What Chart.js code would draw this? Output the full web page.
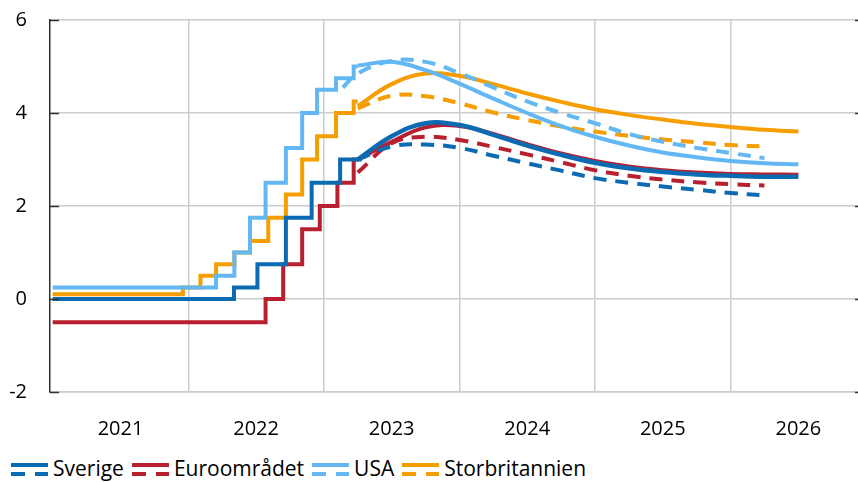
<!DOCTYPE html>
<html>
<head>
<meta charset="utf-8">
<script src="https://cdn.jsdelivr.net/npm/chart.js@4"></script>
<style>
  body { margin: 0; background: #fff; font-family: "Open Sans", sans-serif; }
  #wrap { position: relative; width: 858px; height: 446px; }
  #legend { display: flex; align-items: center; padding-left: 11px; height: 44px; font-size: 21px; color: #000; }
  #legend .item { display: flex; align-items: center; margin-right: 8px; }
  #legend svg { margin-right: 5px; margin-top: 3px; }
</style>
</head>
<body>
<div id="wrap"><canvas id="rates-chart"></canvas></div>
<div id="legend"></div>
<script>
  // historical policy rates (date as decimal year -> new rate)
  const seHistDates = [2021.0, 2022.337, 2022.51, 2022.72, 2022.91, 2023.12, 2023.28];
  const seHist      = [0, 0.25, 0.75, 1.75, 2.5, 3.0, 3.0];
  const eaHistDates = [2021.0, 2022.57, 2022.70, 2022.84, 2022.97, 2023.10, 2023.22, 2023.26];
  const eaHist      = [-0.5, 0, 0.75, 1.5, 2.0, 2.5, 3.0, 3.0];
  const usHistDates = [2021.0, 2022.205, 2022.34, 2022.455, 2022.57, 2022.72, 2022.84, 2022.95, 2023.09, 2023.22, 2023.25];
  const usHist      = [0.25, 0.5, 1.0, 1.75, 2.5, 3.25, 4.0, 4.5, 4.75, 5.0, 5.0];
  const ukHistDates = [2021.0, 2021.96, 2022.09, 2022.205, 2022.34, 2022.455, 2022.59, 2022.72, 2022.84, 2022.95, 2023.09, 2023.22, 2023.25];
  const ukHist      = [0.1, 0.25, 0.5, 0.75, 1.0, 1.25, 1.75, 2.25, 3.0, 3.5, 4.0, 4.25, 4.25];

  // forecasts (solid) and market expectations (dashed), quarterly
  const fcDates  = [2023.25, 2023.5, 2023.75, 2024.0, 2024.25, 2024.5, 2024.75, 2025.0, 2025.25, 2025.5, 2025.75, 2026.0, 2026.25, 2026.5];
  const mktDates = [2023.25, 2023.5, 2023.75, 2024.0, 2024.25, 2024.5, 2024.75, 2025.0, 2025.25, 2025.5, 2025.75, 2026.0, 2026.25];
  const usMktDates = [2023.14, 2023.25, 2023.5, 2023.75, 2024.0, 2024.25, 2024.5, 2024.75, 2025.0, 2025.25, 2025.5, 2025.75, 2026.0, 2026.25];

  const seForecast = [3.0, 3.5, 3.78, 3.74, 3.53, 3.30, 3.10, 2.93, 2.81, 2.73, 2.68, 2.65, 2.63, 2.63];
  const seMarket   = [3.0, 3.28, 3.32, 3.25, 3.08, 2.92, 2.76, 2.60, 2.50, 2.42, 2.35, 2.28, 2.23];
  const eaForecast = [3.0, 3.38, 3.69, 3.72, 3.55, 3.33, 3.13, 2.97, 2.85, 2.77, 2.72, 2.69, 2.68, 2.67];
  const eaMarket   = [2.72, 3.35, 3.49, 3.42, 3.27, 3.11, 2.94, 2.77, 2.65, 2.57, 2.51, 2.47, 2.44];
  const usForecast = [5.02, 5.10, 4.92, 4.63, 4.31, 4.0, 3.72, 3.49, 3.30, 3.15, 3.05, 2.97, 2.92, 2.90];
  const usMarket   = [4.55, 4.85, 5.12, 5.10, 4.86, 4.55, 4.25, 4.0, 3.78, 3.55, 3.38, 3.25, 3.14, 3.03];
  const ukForecast = [4.15, 4.62, 4.85, 4.80, 4.62, 4.42, 4.24, 4.08, 3.96, 3.86, 3.77, 3.70, 3.64, 3.60];
  const ukMarket   = [4.1, 4.37, 4.36, 4.21, 4.01, 3.85, 3.71, 3.60, 3.51, 3.43, 3.37, 3.31, 3.28];

  const names  = ['Sverige', 'Euroområdet', 'USA', 'Storbritannien'];
  const colors = ['#0a6bb3', '#b8202f', '#63b7f2', '#f69d00'];

  const xGridYears  = [2022, 2023, 2024, 2025, 2026];
  const xLabelYears = [2021.5, 2022.5, 2023.5, 2024.5, 2025.5, 2026.5];

  const pts = (xs, ys) => xs.map((x, i) => ({ x: x, y: ys[i] }));

  const series = [
    [seHistDates, seHist, fcDates, seForecast, mktDates, seMarket],
    [eaHistDates, eaHist, fcDates, eaForecast, mktDates, eaMarket],
    [usHistDates, usHist, fcDates, usForecast, usMktDates, usMarket],
    [ukHistDates, ukHist, fcDates, ukForecast, mktDates, ukMarket]
  ];

  const datasets = [];
  series.forEach((s, i) => {
    const c = colors[i];
    datasets.push({ label: names[i], data: pts(s[0], s[1]), borderColor: c, borderWidth: 4, stepped: 'before', pointRadius: 0 });
    datasets.push({ label: names[i] + ' prognos', data: pts(s[2], s[3]), borderColor: c, borderWidth: i === 0 ? 4.5 : 4, tension: 0.4, pointRadius: 0 });
    datasets.push({ label: names[i] + ' marknad', data: pts(s[4], s[5]), borderColor: c, borderWidth: 4, borderDash: [13, 9], tension: 0.4, pointRadius: 0 });
  });

  const innerTicks = {
    id: 'innerTicks',
    afterDraw(chart) {
      const { ctx, chartArea, scales } = chart;
      ctx.save();
      ctx.strokeStyle = '#303030';
      ctx.lineWidth = 1.5;
      scales.y.ticks.forEach(t => {
        const py = Math.round(scales.y.getPixelForValue(t.value)) + 0.5;
        ctx.beginPath();
        ctx.moveTo(chartArea.left, py);
        ctx.lineTo(chartArea.left + 9, py);
        ctx.moveTo(chartArea.right - 3, py);
        ctx.lineTo(chartArea.right, py);
        ctx.stroke();
      });
      ctx.restore();
    }
  };

  const ctx = document.getElementById('rates-chart');
  new Chart(ctx, {
    type: 'line',
    data: { datasets: datasets },
    options: {
      responsive: true,
      maintainAspectRatio: false,
      animation: false,
      layout: { padding: { top: 20, right: 0, bottom: 0, left: 0 } },
      scales: {
        x: {
          type: 'linear',
          min: 2020.98,
          max: 2026.94,
          afterBuildTicks: (axis) => {
            axis.ticks = xGridYears.concat(xLabelYears).sort((a, b) => a - b).map(v => ({ value: v }));
          },
          afterFit: (scale) => { scale.height = 54; },
          ticks: {
            autoSkip: false,
            maxRotation: 0,
            padding: 25,
            color: '#000',
            font: { family: 'Open Sans', size: 20 },
            callback: (v) => Number.isInteger(v) ? '' : String(Math.floor(v))
          },
          grid: {
            drawTicks: false,
            lineWidth: 1.5,
            color: (c) => (c.tick && Number.isInteger(c.tick.value)) ? '#cccccc' : 'rgba(0,0,0,0)'
          },
          border: { color: '#cccccc', width: 1.5 }
        },
        y: {
          min: -2,
          max: 6,
          afterFit: (scale) => {
            scale.width = 50;
            scale.paddingTop = 12;
            scale.paddingBottom = 12;
          },
          ticks: {
            stepSize: 2,
            padding: 23,
            color: '#000',
            font: { family: 'Open Sans', size: 20 }
          },
          grid: { drawTicks: false, lineWidth: 1.5, color: '#cccccc' },
          border: { color: '#303030', width: 1.5 }
        }
      },
      plugins: {
        legend: { display: false },
        tooltip: { enabled: false }
      }
    },
    plugins: [innerTicks]
  });

  // legend: solid line (forecast) above dashed line (market expectations)
  const legend = document.getElementById('legend');
  names.forEach((n, i) => {
    const item = document.createElement('div');
    item.className = 'item';
    item.innerHTML =
      '<svg width="37" height="16" viewBox="0 0 37 16">' +
      '<line x1="0" y1="3" x2="37" y2="3" stroke="' + colors[i] + '" stroke-width="4"/>' +
      '<line x1="0" y1="12" x2="37" y2="12" stroke="' + colors[i] + '" stroke-width="4" stroke-dasharray="14 10"/>' +
      '</svg><span>' + n + '</span>';
    legend.appendChild(item);
  });
</script>
</body>
</html>
